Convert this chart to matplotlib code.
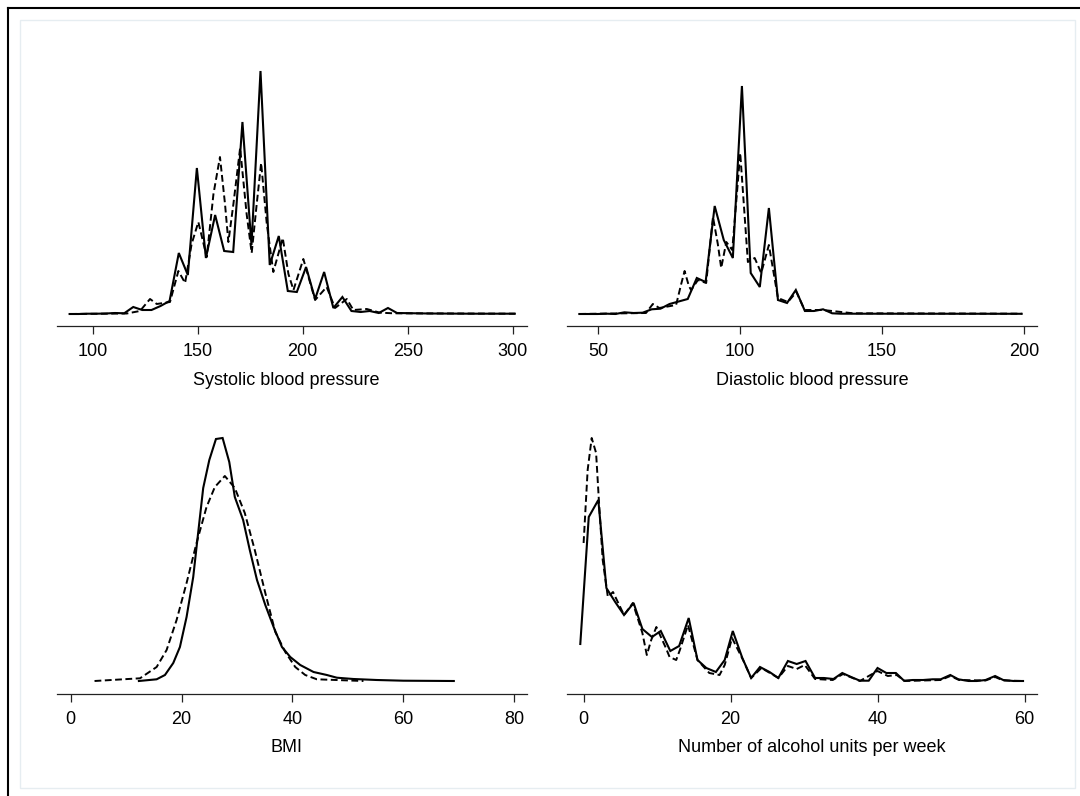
import matplotlib
matplotlib.use("Agg")
import matplotlib.pyplot as plt
from matplotlib.patches import Rectangle
from matplotlib.lines import Line2D

plt.rcParams['font.family'] = ['Liberation Sans', 'DejaVu Sans']

# kernel density estimates (relative heights), observed = solid, imputed = dashed
sbp_x = [89, 93.3, 97.7, 102, 106.3, 110.6, 115, 119.3, 123.6, 128, 132.3, 136.6, 141, 145.3,
         149.6, 153.9, 158.3, 162.6, 166.9, 171.3, 175.6, 179.9, 184.3, 188.6, 192.9, 197.2,
         201.6, 205.9, 210.2, 214.6, 218.9, 223.2, 227.6, 231.9, 236.2, 240.6, 244.9, 260, 280, 301]
sbp_obs = [0, 0, 0.3, 0.3, 0.5, 1, 0.7, 7, 4, 4, 8, 13, 61, 39, 146, 56, 99, 63, 62, 192, 69, 243,
           49, 78, 23, 22, 47, 15, 42, 6, 17, 3, 2, 3, 1, 6, 1, 0.5, 0.3, 0.3]
sbp_imp_x = [89.2, 116.2, 122.5, 127.3, 130.5, 136.8, 140.8, 144, 147.1, 150.3, 154.3, 157.5,
             160.6, 163, 164.6, 167, 170.2, 173.3, 175.7, 178.1, 180.2, 182.9, 186, 190.5, 193.2,
             195.6, 200.3, 205.9, 211.4, 215.4, 221, 224.1, 230.5, 236.8, 243.2, 301.1]
sbp_imp = [0, 0.5, 3, 15, 10, 12, 43, 31, 70, 92, 57, 120, 157, 110, 72, 110, 166, 100, 61, 110,
           151, 90, 42, 76, 40, 24, 55, 14, 27, 6, 15, 4, 5, 1.3, 0.7, 0.3]

dbp_x = [43.3, 46.5, 49.7, 52.9, 56.0, 59.2, 62.4, 65.6, 68.8, 71.9, 75.1, 81.5, 84.7, 87.8, 91.0,
         94.2, 97.4, 100.6, 103.7, 106.9, 110.1, 113.3, 116.5, 119.6, 122.8, 126.0, 129.2, 132.4,
         135.5, 199.2]
dbp_obs = [0, 0, 0, 0.3, 0, 1.7, 1, 1.3, 4.7, 5.3, 10, 15, 36, 32, 108, 74, 56, 228, 41, 27, 106,
           14, 11, 24, 3, 3, 4.7, 0.7, 0.3, 0.2]
dbp_imp_x = [43.3, 66.8, 69.2, 71.5, 77.4, 79.2, 80.4, 81.9, 82.7, 85.1, 88, 90.4, 92.1, 93.3,
             95.1, 97.2, 100, 102.7, 105.1, 107.4, 110.1, 113.3, 116.8, 119.8, 122.7, 129.2,
             139.8, 199.2]
dbp_imp = [0, 1, 10, 6, 9, 30, 43, 28, 24, 34, 31, 97, 70, 46, 72, 64, 161, 52, 56, 41, 69, 16, 12,
           22, 4, 4, 0.7, 0.3]

bmi_x = [12.3, 15.5, 17, 18.5, 19.7, 20.9, 22.1, 22.7, 23.9, 25, 26.2, 27.4, 28.6, 29.6, 31.1,
         32.3, 33.6, 35.1, 36.6, 38.1, 39.6, 41.4, 43.8, 46.2, 48, 51, 55.2, 60, 69.1]
bmi_obs = [0, 1.7, 6, 18, 34, 64, 104, 134, 193, 221, 242, 243, 219, 184, 161, 131, 101, 76, 54,
           34, 24, 16, 9, 6, 3.3, 2, 1, 0.3, 0]
bmi_imp_x = [4.3, 12.5, 15.5, 17.3, 19.1, 20.9, 22.7, 24.5, 26, 27.8, 29.6, 31.4, 33.2, 35.1,
             36.9, 38.7, 40.5, 42.3, 44.4, 52.8]
bmi_imp = [0, 2.7, 14, 31, 61, 98, 138, 174, 194, 205, 193, 168, 131, 88, 49, 29, 14, 6, 1.7, 0]

alc_x = [-0.45, 0.7, 2, 3.1, 4.3, 5.5, 6.8, 8, 9.3, 10.5, 11.8, 13, 14.3, 15.5, 16.7, 18, 19.2,
         20.3, 21.6, 22.8, 24, 25.3, 26.5, 27.8, 29, 30.2, 31.5, 32.7, 34, 35.2, 36.4, 37.6, 38.8,
         40, 41.2, 42.5, 43.6, 44.8, 46.2, 47.5, 48.6, 49.9, 51, 52.4, 53.5, 54.7, 56, 57.1, 58.5,
         59.8]
alc_obs = [37, 164, 181, 93, 79, 66, 78, 52, 44, 50, 30, 35, 63, 21, 13, 9, 21, 50, 23, 3, 14, 9,
           3, 20, 17, 20, 3, 3, 2, 8, 4, 0.3, 0.3, 13, 8, 8, 0.3, 1, 1, 1.7, 1.7, 6, 1.7, 0, 0, 1,
           5, 1, 0, 0]
alc_imp_x = [0, 0.55, 1.1, 1.7, 2.1, 2.6, 3.3, 4, 5.5, 6.7, 8, 8.6, 9.2, 9.9, 11.2, 11.7, 12.6,
             13.1, 14.2, 15.5, 17.1, 18.5, 19.2, 20.2, 21.7, 22.8, 24.2, 26.5, 27.8, 29, 30.1,
             31.5, 33.9, 35.3, 37.6, 40, 41.4, 42.6, 43.7, 48.6, 49.9, 51.1, 54.7, 56, 57.1, 59.8]
alc_imp = [138, 211, 243, 228, 178, 121, 84, 89, 66, 78, 48, 26, 41, 54, 33, 24, 21, 31, 56, 21, 8,
           6, 16, 43, 21, 3, 13, 3, 15, 12, 16, 2, 1, 7, 0, 10, 5, 6, 0, 1, 5, 1, 0.5, 4, 0.5, 0]

panels = [
    ("Systolic blood pressure", sbp_x, sbp_obs, sbp_imp_x, sbp_imp, [100, 150, 200, 250, 300]),
    ("Diastolic blood pressure", dbp_x, dbp_obs, dbp_imp_x, dbp_imp, [50, 100, 150, 200]),
    ("BMI", bmi_x, bmi_obs, bmi_imp_x, bmi_imp, [0, 20, 40, 60, 80]),
    ("Number of alcohol units per week", alc_x, alc_obs, alc_imp_x, alc_imp, [0, 20, 40, 60]),
]
xlims = [(83.0, 306.8), (38.95, 204.6), (-2.47, 82.3), (-2.26, 61.7)]

W, H = 1080, 796
fig = plt.figure(figsize=(W / 100, H / 100), dpi=100)

# axes boxes in pixels: left, right, axis-line y, top y
boxes = [(57, 527, 326, 60), (567, 1037, 326, 60), (57, 527, 694, 428), (567, 1037, 694, 428)]
title_pos = [(286, 381), (812, 381), (286, 748), (812, 748)]
baselines = [314, 314, 681, 681]

for (name, x, y, xi, yi, ticks), (l, r, b, t), xl, (tx, ty), base in zip(
        panels, boxes, xlims, title_pos, baselines):
    ax = fig.add_axes([l / W, 1 - b / H, (r - l) / W, (b - t) / H])
    ax.plot(x, y, color='black', lw=1.5, solid_joinstyle='miter')
    ax.plot(xi, yi, color='black', lw=1.4, dashes=(3.5, 1.8))
    ax.set_xlim(*xl)
    ax.set_ylim(-(b - base), base - t)
    for s in ['top', 'right', 'left']:
        ax.spines[s].set_visible(False)
    ax.spines['bottom'].set_linewidth(0.9)
    ax.spines['bottom'].set_color('#222222')
    ax.set_yticks([])
    ax.set_xticks(ticks)
    ax.tick_params(axis='x', direction='out', length=6, width=0.9, color='#222222',
                   labelsize=13, pad=6)
    fig.text(tx / W, 1 - ty / H, name, ha='center', va='center', fontsize=13)

# outer frames
fig.add_artist(Rectangle((20 / W, 1 - 788 / H), 1055 / W, 768 / H, transform=fig.transFigure,
                         fill=False, edgecolor='#e6edf1', lw=1))
fig.add_artist(Line2D([8 / W, 1], [1 - 8 / H, 1 - 8 / H], transform=fig.transFigure,
                      color='black', lw=1.5))
fig.add_artist(Line2D([8 / W, 8 / W], [0, 1 - 8 / H], transform=fig.transFigure,
                      color='black', lw=1.5))

fig.savefig("out.png", dpi=100)
